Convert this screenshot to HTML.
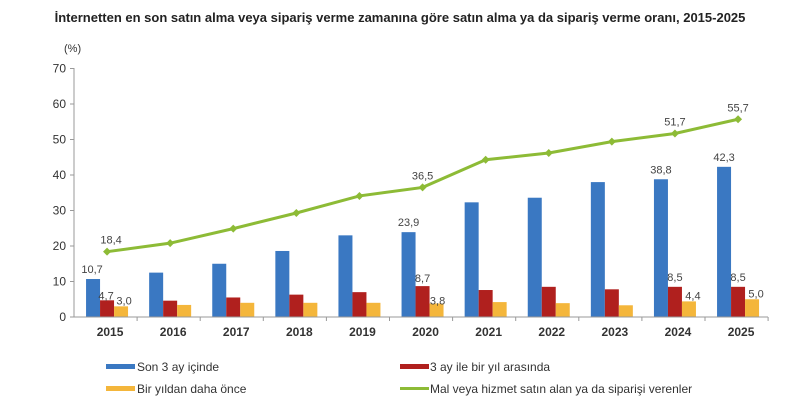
<!DOCTYPE html>
<html><head><meta charset="utf-8"><style>
body{margin:0;background:#fff;}
svg{display:block;font-family:"Liberation Sans",Arial,sans-serif;}
</style></head><body>
<svg width="800" height="415" xmlns="http://www.w3.org/2000/svg">
<text x="400" y="22" text-anchor="middle" font-size="13" font-weight="bold" fill="#222">İnternetten en son satın alma veya sipariş verme zamanına göre satın alma ya da sipariş verme oranı, 2015-2025</text>
<text x="64" y="52" font-size="11" fill="#333">(%)</text>
<g font-size="12" fill="#333" text-anchor="end" id="yax"></g>
<g id="g"></g>
<line x1="74" y1="68" x2="74" y2="317" stroke="#999"/>
<line x1="74" y1="317" x2="768" y2="317" stroke="#999"/>
<g font-size="12" fill="#333">
<rect x="106" y="364" width="29" height="5" fill="#3a78c2"/><text x="137" y="371">Son 3 ay içinde</text>
<rect x="400" y="364" width="29" height="5" fill="#b0201e"/><text x="430" y="371">3 ay ile bir yıl arasında</text>
<rect x="106" y="386" width="29" height="5" fill="#f4b63b"/><text x="137" y="393">Bir yıldan daha önce</text>
<line x1="400" y1="388.5" x2="429" y2="388.5" stroke="#8dbb36" stroke-width="3"/><text x="430" y="393">Mal veya hizmet satın alan ya da siparişi verenler</text>
</g>
</svg>
<script>
var ns="http://www.w3.org/2000/svg";
function el(t,a,p,tx){var e=document.createElementNS(ns,t);for(var k in a)e.setAttribute(k,a[k]);if(tx!=null)e.textContent=tx;(p||document.querySelector('svg')).appendChild(e);return e;}
var g=document.getElementById('g'),ya=document.getElementById('yax');
function Y(v){return 317-v*3.55;}
for(var v=0;v<=70;v+=10){el('text',{x:66,y:Y(v)+4},ya,v);el('line',{x1:70,x2:74,y1:Y(v),y2:Y(v),stroke:'#999'},g);}
var yrs=[2015,2016,2017,2018,2019,2020,2021,2022,2023,2024,2025];
var B=[10.7,12.5,15,18.6,23,23.9,32.3,33.6,38,38.8,42.3];
var R=[4.7,4.6,5.5,6.3,7,8.7,7.6,8.5,7.8,8.5,8.5];
var O=[3.0,3.4,4,4,4,3.8,4.2,3.9,3.3,4.4,5.0];
var L=[18.4,20.8,24.9,29.3,34.1,36.5,44.3,46.2,49.4,51.7,55.7];
var w=63.1,pts=[];
for(var i=0;i<11;i++){
 var c=75.5+w*i+w/2;
 el('line',{x1:74+w*(i+1),x2:74+w*(i+1),y1:317,y2:321,stroke:'#999'},g);
 el('rect',{x:c-21,y:Y(B[i]),width:14,height:B[i]*3.55,fill:'#3a78c2'},g);
 el('rect',{x:c-7,y:Y(R[i]),width:14,height:R[i]*3.55,fill:'#b0201e'},g);
 el('rect',{x:c+7,y:Y(O[i]),width:14,height:O[i]*3.55,fill:'#f4b63b'},g);
 el('text',{x:c+3,y:336,'font-size':12,'font-weight':'bold',fill:'#333','text-anchor':'middle'},g,yrs[i]);
 pts.push(c+','+Y(L[i]));
}
el('polyline',{points:pts.join(' '),fill:'none',stroke:'#8dbb36','stroke-width':3},g);
pts.forEach(function(p){var a=p.split(',');var x=+a[0],y=+a[1];el('polygon',{points:(x-4)+','+y+' '+x+','+(y-4)+' '+(x+4)+','+y+' '+x+','+(y+4),fill:'#8dbb36'},g);});
function lab(i,ser,v,dx,dy){var c=75.5+w*i+w/2;el('text',{x:c+dx,y:Y(v)+dy,'font-size':11,fill:'#444','text-anchor':'middle'},g,String(v.toFixed(1)).replace('.',','));}
lab(0,0,18.4,4,-8);lab(5,0,36.5,0,-8);lab(9,0,51.7,0,-8);lab(10,0,55.7,0,-8);
lab(0,0,10.7,-15,-6);lab(5,0,23.9,-14,-6);lab(9,0,38.8,-14,-6);lab(10,0,42.3,-14,-6);
lab(0,0,4.7,-1,-1);lab(5,0,8.7,0,-4);lab(9,0,8.5,0,-6);lab(10,0,8.5,0,-6);
lab(0,0,3.0,17,-2);lab(5,0,3.8,15,1);lab(9,0,4.4,18,-2);lab(10,0,5.0,18,-2);
</script>
</body></html>
